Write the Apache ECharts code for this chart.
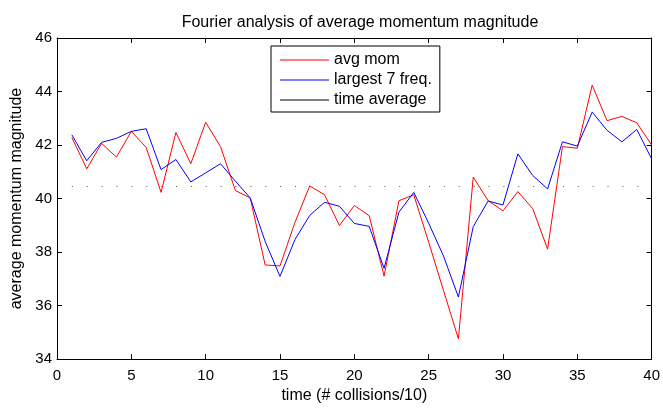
<!DOCTYPE html>
<html>
<head>
<meta charset="utf-8">
<script src="https://cdn.jsdelivr.net/npm/echarts@6/dist/echarts.min.js"></script>
<style>
  html, body { margin: 0; padding: 0; background: #fff; }
  #chart { width: 663px; height: 409px; }
</style>
</head>
<body>
<div id="chart"></div>
<script>
// time steps 1..40
const steps = [1,2,3,4,5,6,7,8,9,10,11,12,13,14,15,16,17,18,19,20,
               21,22,23,24,25,26,27,28,29,30,31,32,33,34,35,36,37,38,39,40];
const avgMom = [42.28,41.11,42.06,41.55,42.51,41.91,40.23,42.47,41.30,42.85,
                41.94,40.30,40.02,37.52,37.48,39.10,40.47,40.14,38.99,39.74,
                39.36,37.10,39.92,40.14,38.37,36.56,34.76,40.80,39.92,39.54,
                40.26,39.62,38.11,41.94,41.88,44.24,42.91,43.07,42.83,42.00];
const largest7 = [42.38,41.41,42.10,42.25,42.51,42.61,41.08,41.46,40.62,40.96,
                  41.30,40.65,40.02,38.40,37.09,38.46,39.37,39.86,39.71,39.07,
                  38.96,37.39,39.49,40.23,39.08,37.85,36.32,38.95,39.91,39.76,
                  41.67,40.86,40.36,42.12,41.96,43.23,42.55,42.12,42.58,41.48];
const timeAvg = 40.45;
const xTicks = [0,5,10,15,20,25,30,35,40];
const yTicks = [34,36,38,40,42,44,46];

const font = 'Liberation Sans, Arial, sans-serif';
const pair = arr => steps.map((s, i) => [s, arr[i]]);

const chart = echarts.init(document.getElementById('chart'));
const axisBase = {
  type: 'value',
  axisLine: { show: true, onZero: false, lineStyle: { color: '#000', width: 1 } },
  axisTick: { show: true, inside: true, length: 5, lineStyle: { color: '#000' } },
  splitLine: { show: false }
};
chart.setOption({
  animation: false,
  title: {
    text: 'Fourier analysis of average momentum magnitude',
    left: 355, top: 10, textAlign: 'center',
    textStyle: { fontFamily: font, fontSize: 16, fontWeight: 'normal', color: '#000' }
  },
  legend: {
    orient: 'vertical',
    left: 271, top: 46,
    padding: [6, 8, 4, 9],
    borderColor: '#000', borderWidth: 1,
    icon: 'rect',
    itemWidth: 49, itemHeight: 1, itemGap: 4,
    textStyle: { fontFamily: font, fontSize: 16, color: '#000' },
    data: [
      { name: 'avg mom' },
      { name: 'largest 7 freq.' },
      { name: 'time average', itemStyle: { color: '#000' } }
    ]
  },
  grid: { left: 57, right: 11, top: 38, bottom: 44 },
  xAxis: [
    Object.assign({}, axisBase, {
      position: 'bottom', min: 0, max: 40, interval: 5,
      name: 'time (# collisions/10)', nameLocation: 'middle', nameGap: 26,
      nameTextStyle: { fontFamily: font, fontSize: 16, color: '#000' },
      axisLabel: { fontFamily: font, fontSize: 15, color: '#000', margin: 9 }
    }),
    Object.assign({}, axisBase, {
      position: 'top', min: 0, max: 40, interval: 5, axisLabel: { show: false }
    })
  ],
  yAxis: [
    Object.assign({}, axisBase, {
      position: 'left', min: 34, max: 46, interval: 2,
      name: 'average momentum magnitude', nameLocation: 'middle', nameGap: 29,
      nameTextStyle: { fontFamily: font, fontSize: 16, color: '#000' },
      axisLabel: { fontFamily: font, fontSize: 15, color: '#000', margin: 5 }
    }),
    Object.assign({}, axisBase, {
      position: 'right', min: 34, max: 46, interval: 2, axisLabel: { show: false }
    })
  ],
  series: [
    {
      name: 'avg mom', type: 'line', symbol: 'none',
      data: pair(avgMom),
      itemStyle: { color: '#ff0000' },
      lineStyle: { color: '#ff0000', width: 1 }, z: 3
    },
    {
      name: 'largest 7 freq.', type: 'line', symbol: 'none',
      data: pair(largest7),
      itemStyle: { color: '#0000ff' },
      lineStyle: { color: '#0000ff', width: 1 }, z: 4
    },
    {
      name: 'time average', type: 'line', symbol: 'none',
      data: [[1, timeAvg], [40, timeAvg]],
      itemStyle: { color: '#555' },
      lineStyle: { color: '#555', width: 1, type: [1, 13.88] }, z: 2
    }
  ]
});
</script>
</body>
</html>
